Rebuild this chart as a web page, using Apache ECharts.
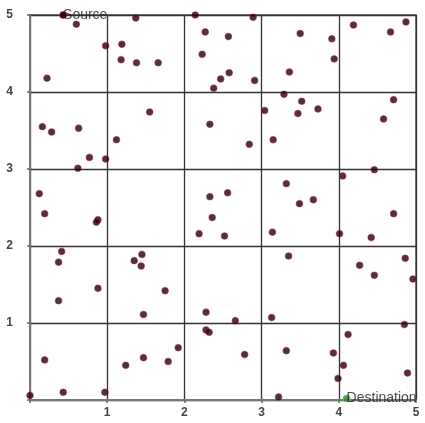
<!DOCTYPE html>
<html>
<head>
<meta charset="utf-8">
<script src="https://cdn.jsdelivr.net/npm/echarts@6/dist/echarts.min.js"></script>
<style>
  html, body { margin: 0; padding: 0; background: #fff; }
  #chart { width: 425px; height: 423px; }
</style>
</head>
<body>
<div id="chart"></div>
<script>
// Random node positions in a 5 x 5 field
const nodeX = [
  0.43, 0.60, 0.22, 0.98, 1.19, 1.18, 1.38, 1.66, 1.37, 2.14,
  2.27, 2.23, 2.38, 1.55, 0.16, 0.28, 0.63, 1.12, 0.77, 0.98,
  0.62, 2.33, 0.12, 0.19, 2.33, 2.89, 2.57, 2.58, 2.47, 2.91,
  3.50, 3.91, 3.94, 3.36, 4.19, 4.67, 4.87, 3.29, 3.52, 3.73,
  3.47, 3.04, 2.84, 3.15, 4.71, 4.58, 4.05, 4.46, 3.32, 2.56,
  3.49, 3.67, 4.71, 0.88, 0.86, 0.41, 0.37, 0.88, 0.37, 0.19,
  0.43, 0.00, 0.97, 1.45, 1.35, 1.44, 1.75, 1.47, 1.24, 1.47,
  1.79, 1.92, 2.19, 2.36, 2.28, 2.28, 2.32, 2.52, 3.14, 4.01,
  4.42, 3.35, 4.27, 4.46, 4.86, 4.96, 2.66, 3.13, 2.78, 3.32,
  3.93, 4.12, 4.06, 3.99, 4.85, 4.89, 3.22
];
const nodeY = [
  5.00, 4.88, 4.18, 4.60, 4.62, 4.42, 4.38, 4.38, 4.96, 5.00,
  4.78, 4.49, 4.05, 3.74, 3.55, 3.48, 3.53, 3.38, 3.15, 3.13,
  3.01, 3.58, 2.68, 2.42, 2.64, 4.97, 4.72, 4.25, 4.17, 4.15,
  4.76, 4.69, 4.43, 4.26, 4.87, 4.78, 4.91, 3.97, 3.88, 3.78,
  3.72, 3.76, 3.32, 3.38, 3.90, 3.65, 2.91, 2.99, 2.81, 2.69,
  2.55, 2.60, 2.42, 2.34, 2.31, 1.93, 1.79, 1.45, 1.29, 0.52,
  0.10, 0.06, 0.10, 1.89, 1.81, 1.74, 1.42, 1.11, 0.45, 0.55,
  0.50, 0.68, 2.16, 2.37, 1.14, 0.91, 0.88, 2.13, 2.18, 2.16,
  2.11, 1.87, 1.75, 1.62, 1.84, 1.57, 1.03, 1.07, 0.59, 0.64,
  0.61, 0.85, 0.45, 0.28, 0.98, 0.35, 0.04
];
const sourceName = 'Source';
const sourcePos = [0.43, 5.00];
const destName = 'Destination';
const destPos = [4.10, 0.02];
const tickValues = [0, 1, 2, 3, 4, 5];

const nodes = nodeX.map((x, i) => [x, nodeY[i]]);

const nodeStyle = { color: '#22000c', borderColor: 'rgba(150,20,70,0.65)', borderWidth: 1.2 };
const textFont = 'Liberation Sans, Arial, sans-serif';

const axisCommon = {
  type: 'value',
  min: tickValues[0],
  max: tickValues[tickValues.length - 1],
  interval: 1,
  axisLine: { show: true, lineStyle: { color: '#777', width: 2 } },
  axisTick: { show: true, length: 3, lineStyle: { color: '#666', width: 1.5 } },
  axisLabel: {
    color: '#444', fontSize: 12, fontWeight: 'bold', fontFamily: textFont,
    formatter: v => (v === 0 ? '' : String(v))
  },
  splitLine: { show: true, lineStyle: { color: '#333', width: 1.3 } }
};

const chart = echarts.init(document.getElementById('chart'), null, { renderer: 'canvas' });
chart.setOption({
  animation: false,
  backgroundColor: '#fff',
  grid: { left: 30, right: 9, top: 15, bottom: 23, show: true, borderColor: '#555', borderWidth: 1.5 },
  xAxis: Object.assign({}, axisCommon, { axisLabel: Object.assign({}, axisCommon.axisLabel, { margin: 7 }) }),
  yAxis: Object.assign({}, axisCommon, { axisLabel: Object.assign({}, axisCommon.axisLabel, { margin: 17 }) }),
  series: [
    {
      type: 'scatter',
      data: nodes,
      symbolSize: 6.5,
      itemStyle: nodeStyle,
      z: 3
    },
    {
      type: 'scatter',
      data: [sourcePos],
      symbolSize: 6.5,
      itemStyle: nodeStyle,
      label: {
        show: true, position: 'right', distance: -4, formatter: sourceName,
        color: '#222', fontSize: 14, fontFamily: textFont
      },
      z: 4
    },
    {
      type: 'scatter',
      data: [destPos],
      symbolSize: 7,
      itemStyle: { color: '#2a8a2a', borderColor: 'rgba(120,220,120,0.6)', borderWidth: 1.2 },
      label: {
        show: true, position: 'right', distance: -4, formatter: destName,
        color: '#222', fontSize: 14, fontFamily: textFont
      },
      z: 4
    }
  ]
});
</script>
</body>
</html>
